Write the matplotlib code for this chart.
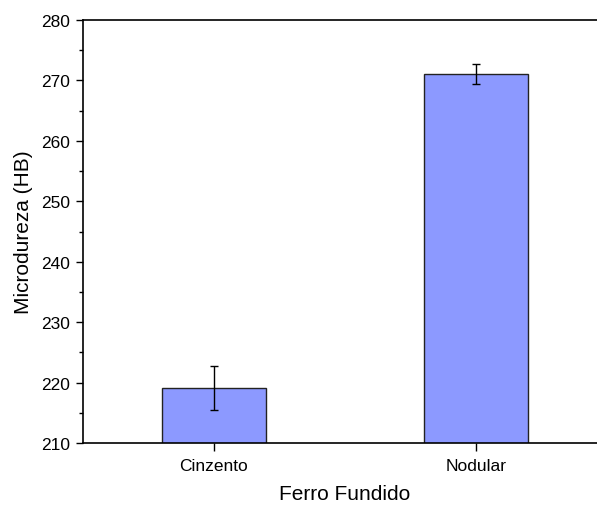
import numpy as np
import matplotlib.pyplot as plt
from matplotlib.ticker import MultipleLocator

plt.rcParams['font.family'] = ['Liberation Sans', 'DejaVu Sans']

# Dados
categorias = ['Cinzento', 'Nodular']
dureza = [219.1, 271.1]
erro = [3.7, 1.65]

fig = plt.figure(figsize=(5.97, 5.06), dpi=100)
# eixo propositalmente mais largo que a figura (borda direita cortada)
ax = fig.add_axes([83 / 597, 62 / 506, 524 / 597, 423 / 506])

x = np.arange(len(categorias))
ax.bar(x, dureza, width=0.4, color='#8c99ff', edgecolor='#222222', linewidth=1.0,
       yerr=erro, capsize=3, error_kw=dict(ecolor='black', elinewidth=1.0, capthick=1.0))

ax.set_xlim(-0.5, 1.5)
ax.set_ylim(210, 280)
ax.set_xticks(x)
ax.set_xticklabels(categorias)
ax.yaxis.set_major_locator(MultipleLocator(10))
ax.yaxis.set_minor_locator(MultipleLocator(5))
ax.tick_params(axis='both', direction='out', labelsize=12.5, width=1.0, length=5, pad=4)
ax.tick_params(axis='y', which='minor', direction='out', width=1.0, length=3)
ax.tick_params(axis='x', length=6, pad=5)

for s in ['left', 'bottom', 'top', 'right']:
    ax.spines[s].set_linewidth(1.2)

ax.set_xlabel('Ferro Fundido', fontsize=15, labelpad=8)
ax.set_ylabel('Microdureza (HB)', fontsize=15, labelpad=6)

fig.savefig('out.png', dpi=100)
